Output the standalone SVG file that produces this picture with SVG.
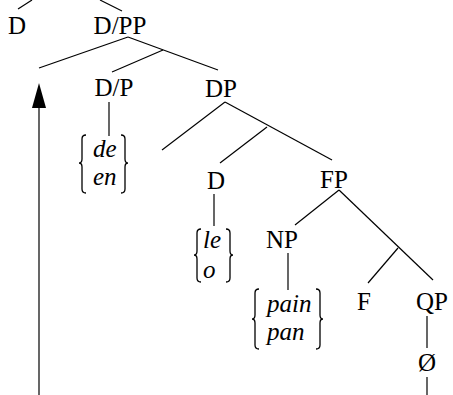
<svg xmlns="http://www.w3.org/2000/svg" width="453" height="395" viewBox="0 0 453 395" font-family="Liberation Serif, DejaVu Serif, serif">
<style>
.n{font-size:25px;fill:#000;text-anchor:middle}
.w{font-size:25px;font-style:italic;fill:#000}
.e{stroke:#000;stroke-width:1.2;fill:none}
.b{stroke:#000;stroke-width:1.3;fill:none}
</style>
<rect width="453" height="395" fill="#fff"/>
<g id="connectors">
<line class="e" x1="18" y1="9" x2="32" y2="0"/>
<line class="e" x1="100" y1="0" x2="122" y2="11"/>
<line class="e" x1="128" y1="37" x2="39" y2="68"/>
<line class="e" x1="128" y1="37" x2="218" y2="70"/>
<line class="e" x1="163" y1="50" x2="112" y2="72"/>
<line class="e" x1="109" y1="102" x2="109" y2="136"/>
<line class="e" x1="225" y1="102" x2="162" y2="150"/>
<line class="e" x1="225" y1="102" x2="332" y2="160"/>
<line class="e" x1="267" y1="127" x2="220" y2="163"/>
<line class="e" x1="214" y1="194" x2="214" y2="226"/>
<line class="e" x1="339" y1="190" x2="295" y2="225"/>
<line class="e" x1="339" y1="190" x2="433" y2="280"/>
<line class="e" x1="398" y1="248" x2="368" y2="283"/>
<line class="e" x1="288" y1="253" x2="288" y2="290"/>
<line class="e" x1="427" y1="316" x2="427" y2="348"/>
<line class="e" x1="427" y1="377" x2="427" y2="395"/>
<path d="M39,395 L39,108" class="e"/>
<path d="M39,83 L46,108 L32,108 Z" fill="#000"/>
</g>
<g id="n-D-top"><text class="n" x="17" y="34">D</text></g>
<g id="n-DPP"><text class="n" x="120" y="34">D/PP</text></g>
<g id="n-DP-slash"><text class="n" x="114" y="96">D/P</text></g>
<g id="n-de-en">
<path class="b" d="M86,135 Q82,135 82,139 L82,159 Q82,163 79,163 Q82,163 82,167 L82,189 Q82,193 86,193"/>
<text class="w" x="93" y="157">de</text>
<text class="w" x="93" y="185">en</text>
<path class="b" d="M121,135 Q125,135 125,139 L125,159 Q125,163 128,163 Q125,163 125,167 L125,189 Q125,193 121,193"/>
</g>
<g id="n-DP"><text class="n" x="221" y="97">DP</text></g>
<g id="n-D"><text class="n" x="216" y="189">D</text></g>
<g id="n-le-o">
<path class="b" d="M201,229 Q197,229 197,233 L197,251 Q197,255 194,255 Q197,255 197,259 L197,278 Q197,282 201,282"/>
<text class="w" x="203" y="248">le</text>
<text class="w" x="203" y="278">o</text>
<path class="b" d="M226,229 Q230,229 230,233 L230,251 Q230,255 233,255 Q230,255 230,259 L230,278 Q230,282 226,282"/>
</g>
<g id="n-FP"><text class="n" x="334" y="188">FP</text></g>
<g id="n-NP"><text class="n" x="282" y="248">NP</text></g>
<g id="n-pain-pan">
<path class="b" d="M259,289 Q255,289 255,293 L255,315 Q255,319 252,319 Q255,319 255,323 L255,345 Q255,349 259,349"/>
<text class="w" x="267" y="312">pain</text>
<text class="w" x="267" y="340">pan</text>
<path class="b" d="M316,289 Q320,289 320,293 L320,315 Q320,319 323,319 Q320,319 320,323 L320,345 Q320,349 316,349"/>
</g>
<g id="n-F"><text class="n" x="364" y="310">F</text></g>
<g id="n-QP"><text class="n" x="432" y="310">QP</text></g>
<g id="n-empty"><text class="n" x="427" y="371">Ø</text></g>
</svg>
